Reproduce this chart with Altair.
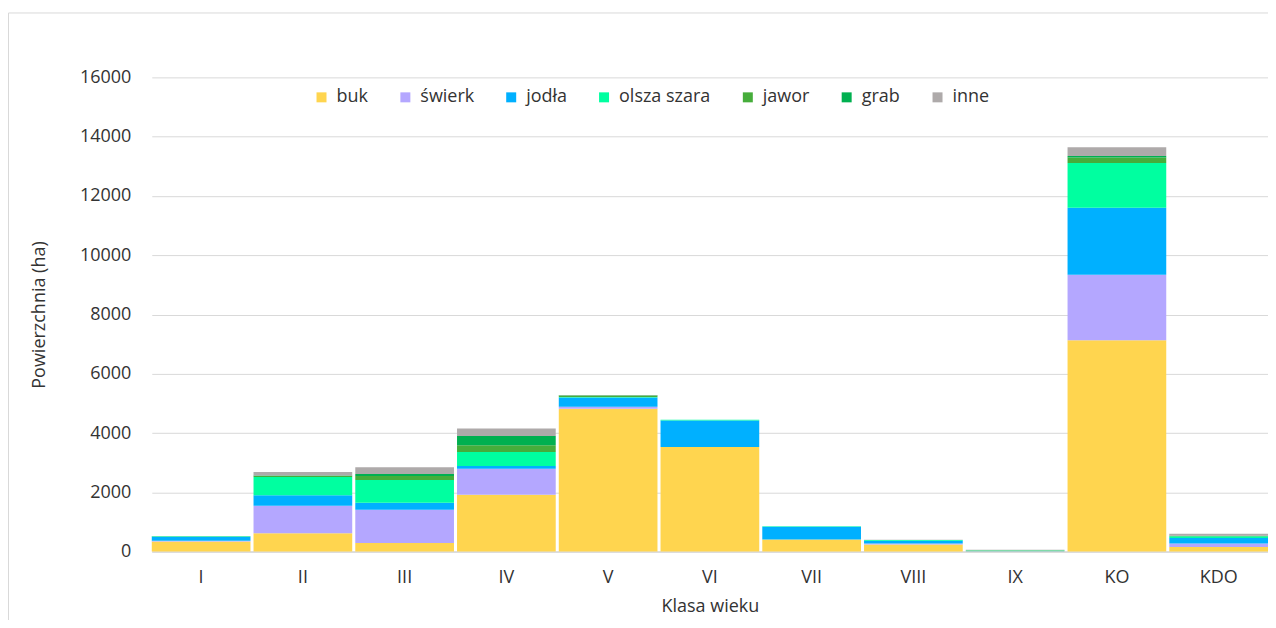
import altair as alt
import pandas as pd

categories = ["I", "II", "III", "IV", "V", "VI", "VII", "VIII", "IX", "KO", "KDO"]
species = ["buk", "świerk", "jodła", "olsza szara", "jawor", "grab", "inne"]
colors = ["#FFD54F", "#B4A7FF", "#00B0FF", "#00FFA0", "#46AD3B", "#00B050", "#AEAAAA"]

buk = [340, 620, 290, 1920, 4820, 3530, 410, 240, 10, 7130, 160]
swierk = [25, 930, 1120, 875, 70, 0, 0, 30, 5, 2210, 110]
jodla = [130, 350, 235, 90, 310, 895, 430, 95, 10, 2260, 190]
olsza = [20, 620, 775, 480, 15, 20, 15, 25, 15, 1515, 55]
jawor = [5, 30, 135, 225, 50, 5, 5, 5, 5, 180, 15]
grab = [0, 20, 65, 315, 10, 0, 0, 0, 5, 55, 5]
inne = [10, 120, 225, 245, 5, 0, 0, 5, 10, 290, 70]

y_ticks = [0, 2000, 4000, 6000, 8000, 10000, 12000, 14000, 16000]

series = [buk, swierk, jodla, olsza, jawor, grab, inne]
rows = []
for si, (name, vals) in enumerate(zip(species, series)):
    for cat, v in zip(categories, vals):
        rows.append({"klasa": cat, "gatunek": name, "pow": v, "ord": si})
df = pd.DataFrame(rows)

FONT = "Open Sans"
TXT = "#333333"
GRID = "#D9D9D9"

W, H = 1118, 475

bars = alt.Chart(df).mark_bar(strokeWidth=0).encode(
    x=alt.X("klasa:N", sort=categories,
            scale=alt.Scale(paddingInner=0.03, paddingOuter=0),
            axis=alt.Axis(title="Klasa wieku", labelAngle=0, ticks=False,
                          domainColor=GRID, domainWidth=1.5, grid=False,
                          labelFont=FONT, labelFontSize=18, labelColor=TXT,
                          labelPadding=17,
                          titleFont=FONT, titleFontSize=18, titleColor=TXT,
                          titleFontWeight="normal", titleY=55,
                          titleBaseline="middle")),
    y=alt.Y("pow:Q", stack="zero",
            scale=alt.Scale(domain=[0, 16000], nice=False),
            axis=alt.Axis(title="Powierzchnia (ha)", values=y_ticks, format="d",
                          ticks=False, domain=False, gridColor=GRID,
                          gridWidth=1, labelFont=FONT, labelFontSize=18,
                          labelColor=TXT, labelPadding=21,
                          titleFont=FONT, titleFontSize=18, titleColor=TXT,
                          titleFontWeight="normal", titleX=-112,
                          titleY=H / 2, titleBaseline="middle")),
    color=alt.Color("gatunek:N",
                    scale=alt.Scale(domain=species, range=colors),
                    legend=alt.Legend(orient="none", legendX=161, legendY=11,
                                      direction="horizontal", title=None,
                                      symbolType="square", symbolSize=100,
                                      symbolStrokeWidth=0,
                                      labelFont=FONT, labelFontSize=18,
                                      labelColor=TXT, columnPadding=28,
                                      labelOffset=6, padding=0)),
    order=alt.Order("ord:Q", sort="ascending"),
)

frame_left = alt.Chart(pd.DataFrame({"a": [0]})).mark_rule(
    color=GRID, strokeWidth=1).encode(
    x=alt.value(-143.5), y=alt.value(-64.5), y2=alt.value(H + 70))
frame_top = alt.Chart(pd.DataFrame({"a": [0]})).mark_rule(
    color=GRID, strokeWidth=1).encode(
    y=alt.value(-64.5), x=alt.value(-143.5), x2=alt.value(W + 20))

chart = alt.layer(bars, frame_left, frame_top).properties(
    width=W, height=H,
    autosize=alt.AutoSizeParams(type="none"),
    padding={"left": 144, "top": 69, "right": 0, "bottom": 68},
).configure(background="white").configure_view(stroke=None)

chart.save("out.html", embed_options={"renderer": "svg", "actions": False})
